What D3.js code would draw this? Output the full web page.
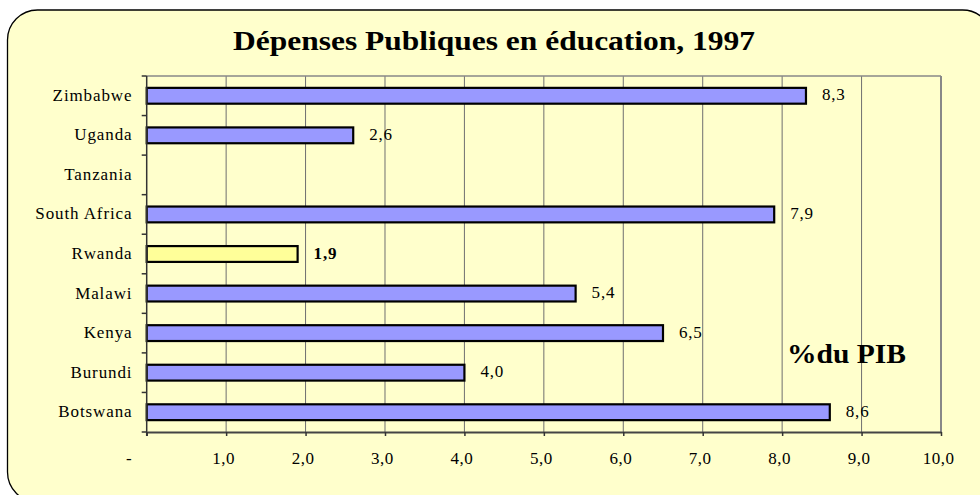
<!DOCTYPE html>
<html>
<head>
<meta charset="utf-8">
<script src="https://cdn.jsdelivr.net/npm/d3@7"></script>
<style>
  body { margin: 0; background: #fff; overflow: hidden; }
</style>
</head>
<body>
<svg id="chart" width="980" height="495"></svg>
<script>
// data
const countries = ['Zimbabwe', 'Uganda', 'Tanzania', 'South Africa', 'Rwanda', 'Malawi', 'Kenya', 'Burundi', 'Botswana']
const values = [8.3, 2.6, null, 7.9, 1.9, 5.4, 6.5, 4.0, 8.6]
const xTicks = [0, 1, 2, 3, 4, 5, 6, 7, 8, 9, 10]
const highlight = 'Rwanda'

const FONT = '"Liberation Serif", "Times New Roman", serif'
const data = countries.map((c, i) => ({ country: c, value: values[i] }))
const fmt = v => d3.format('.1f')(v).replace('.', ',')

const svg = d3.select('#chart')

// rounded frame (runs off the right and bottom edges)
svg.append('rect')
  .attr('x', 7.5).attr('y', 10).attr('width', 985).attr('height', 492)
  .attr('rx', 30).attr('ry', 30)
  .attr('fill', '#FFFFCC').attr('stroke', '#000').attr('stroke-width', 1.3)

svg.append('text')
  .attr('x', 233).attr('y', 50)
  .attr('textLength', 522).attr('lengthAdjust', 'spacingAndGlyphs')
  .style('font-family', FONT)
  .style('font-size', '27px').style('font-weight', 'bold')
  .text('Dépenses Publiques en éducation, 1997')

const pLeft = 146.7, pRight = 941, pTop = 76, pBottom = 432

const x = d3.scaleLinear().domain([0, 10]).range([pLeft, pRight])
const y = d3.scaleBand().domain(countries).range([pTop, pBottom]).paddingInner(0.6).paddingOuter(0.3)

// vertical gridlines
svg.append('g').selectAll('line').data(xTicks.slice(1, -1)).enter().append('line')
  .attr('x1', d => x(d)).attr('x2', d => x(d))
  .attr('y1', pTop).attr('y2', pBottom)
  .attr('stroke', '#6f6f6f').attr('stroke-width', 1)

// top and right border of plot area
svg.append('line').attr('x1', pLeft).attr('x2', pRight).attr('y1', pTop).attr('y2', pTop)
  .attr('stroke', '#888').attr('stroke-width', 1.5)
svg.append('line').attr('x1', pRight).attr('x2', pRight).attr('y1', pTop).attr('y2', pBottom)
  .attr('stroke', '#888').attr('stroke-width', 2)

// bars
svg.append('g').selectAll('rect').data(data.filter(d => d.value != null)).enter().append('rect')
  .attr('x', x(0))
  .attr('y', d => y(d.country))
  .attr('width', d => x(d.value) - x(0))
  .attr('height', y.bandwidth())
  .attr('fill', d => d.country === highlight ? '#FFFF99' : '#9999FF')
  .attr('stroke', '#000').attr('stroke-width', 2.2)

// value labels
svg.append('g').selectAll('text').data(data.filter(d => d.value != null)).enter().append('text')
  .attr('x', d => x(d.value) + 16)
  .attr('y', d => y(d.country) + y.bandwidth() / 2 + 4.5)
  .style('font-family', FONT)
  .style('font-size', '17px').style('letter-spacing', '0.8px')
  .style('font-weight', d => d.country === highlight ? 'bold' : 'normal')
  .text(d => fmt(d.value))

// y axis with ticks at band boundaries
const yAxis = svg.append('g')
yAxis.append('line').attr('x1', pLeft).attr('x2', pLeft).attr('y1', pTop).attr('y2', pBottom + 4)
  .attr('stroke', '#333').attr('stroke-width', 1.5)
yAxis.selectAll('line.tk').data(d3.range(countries.length + 1)).enter().append('line')
  .attr('class', 'tk')
  .attr('x1', pLeft - 5).attr('x2', pLeft)
  .attr('y1', i => pTop + i * (pBottom - pTop) / countries.length)
  .attr('y2', i => pTop + i * (pBottom - pTop) / countries.length)
  .attr('stroke', '#333').attr('stroke-width', 1.5)
yAxis.selectAll('text').data(countries).enter().append('text')
  .attr('x', 132.5).attr('y', d => y(d) + y.bandwidth() / 2 + 5)
  .attr('text-anchor', 'end')
  .style('font-family', FONT)
  .style('font-size', '17px').style('letter-spacing', '0.9px')
  .text(d => d)

// x axis
const xAxis = svg.append('g').attr('transform', `translate(0,${pBottom})`)
  .call(d3.axisBottom(x).tickValues(xTicks).tickSize(4).tickSizeOuter(0)
    .tickFormat(d => d === 0 ? '-' : fmt(d)))
xAxis.select('.domain').attr('stroke', '#444').attr('stroke-width', 2)
xAxis.selectAll('.tick line').attr('stroke', '#333').attr('stroke-width', 1.5)
xAxis.selectAll('.tick text')
  .attr('y', 20).attr('x', -3)
  .style('font-family', FONT).style('font-size', '17px').style('letter-spacing', '0.5px')
  .attr('fill', '#000')
xAxis.selectAll('.tick').filter(d => d === 0).select('text').attr('x', -18)

svg.append('text')
  .attr('x', 787).attr('y', 363)
  .attr('textLength', 119).attr('lengthAdjust', 'spacingAndGlyphs')
  .style('font-family', FONT)
  .style('font-size', '27px').style('font-weight', 'bold')
  .text('%du PIB')
</script>
</body>
</html>
